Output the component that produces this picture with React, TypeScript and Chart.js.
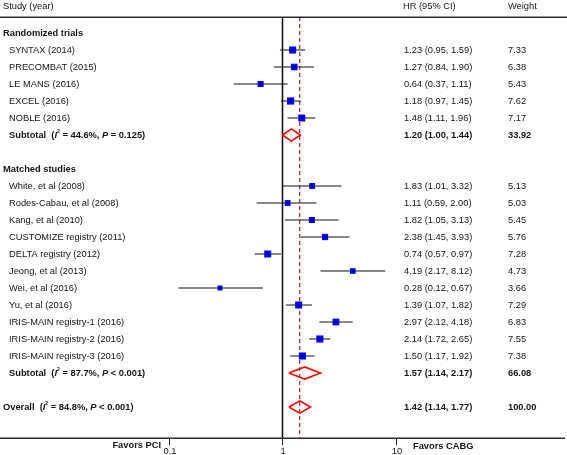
import React, { useEffect, useRef } from 'react';
import Chart from 'chart.js/auto';

// ---------- data ----------
const groupTitles = ['Randomized trials', 'Matched studies'];

const rctNames = ['SYNTAX (2014)', 'PRECOMBAT (2015)', 'LE MANS (2016)', 'EXCEL (2016)', 'NOBLE (2016)'];
const rctHR = [1.23, 1.27, 0.64, 1.18, 1.48];
const rctLo = [0.95, 0.84, 0.37, 0.97, 1.11];
const rctHi = [1.59, 1.9, 1.11, 1.45, 1.96];
const rctWeight = [7.33, 6.38, 5.43, 7.62, 7.17];

const obsNames = [
  'White, et al (2008)',
  'Rodes-Cabau, et al (2008)',
  'Kang, et al (2010)',
  'CUSTOMIZE registry (2011)',
  'DELTA registry (2012)',
  'Jeong, et al (2013)',
  'Wei, et al (2016)',
  'Yu, et al (2016)',
  'IRIS-MAIN registry-1 (2016)',
  'IRIS-MAIN registry-2 (2016)',
  'IRIS-MAIN registry-3 (2016)',
];
const obsHR = [1.83, 1.11, 1.82, 2.38, 0.74, 4.19, 0.28, 1.39, 2.97, 2.14, 1.5];
const obsLo = [1.01, 0.59, 1.05, 1.45, 0.57, 2.17, 0.12, 1.07, 2.12, 1.72, 1.17];
const obsHi = [3.32, 2.0, 3.13, 3.93, 0.97, 8.12, 0.67, 1.82, 4.18, 2.65, 1.92];
const obsWeight = [5.13, 5.03, 5.45, 5.76, 7.28, 4.73, 3.66, 7.29, 6.83, 7.55, 7.38];

const pooledLabels = ['Subtotal', 'Subtotal', 'Overall'];
const pooledHR = [1.2, 1.57, 1.42];
const pooledLo = [1.0, 1.14, 1.14];
const pooledHi = [1.44, 2.17, 1.77];
const pooledWeight = [33.92, 66.08, 100.0];
const pooledI2 = ['44.6%', '87.7%', '84.8%'];
const pooledP = ['= 0.125', '< 0.001', '< 0.001'];

const columnHeaders = ['Study (year)', 'HR (95% CI)', 'Weight'];
const xTicks = [0.1, 1, 10];
const xTickLabels = ['0.1', '1', '10'];
const favorsLabels = ['Favors PCI', 'Favors CABG'];

// ---------- layout ----------
const W = 567;
const H = 455;
const PX_ONE = 282.5;
const PX_DECADE = 113;
const ROW0_PX = 33;
const ROW_PX = 17;
const X_MIN = Math.pow(10, -PX_ONE / PX_DECADE);
const X_MAX = Math.pow(10, (W - PX_ONE) / PX_DECADE);
const Y_MIN = -ROW0_PX / ROW_PX;
const Y_MAX = Y_MIN + H / ROW_PX;
const HEADER_ROW = (6 - ROW0_PX) / ROW_PX;
const TOP_RULE_ROW = (17 - ROW0_PX) / ROW_PX;
const AXIS_ROW = (438 - ROW0_PX) / ROW_PX;
const DIAMOND_HALF = 0.36;

const FONT = '"Liberation Sans", Arial, Helvetica, sans-serif';
const FS = 9.3;
const TEXT = '#151515';

type Study = { name: string; hr: number; lo: number; hi: number; w: number; row: number };
type Pooled = { label: string; hr: number; lo: number; hi: number; w: number; i2: string; p: string; row: number; indent: boolean };
type Title = { text: string; row: number };

function buildRows() {
  const studies: Study[] = [];
  const pooled: Pooled[] = [];
  const titles: Title[] = [];
  const groups = [
    { names: rctNames, hr: rctHR, lo: rctLo, hi: rctHi, w: rctWeight },
    { names: obsNames, hr: obsHR, lo: obsLo, hi: obsHi, w: obsWeight },
  ];
  let r = 0;
  groups.forEach((g, gi) => {
    titles.push({ text: groupTitles[gi], row: r++ });
    g.names.forEach((n, i) => {
      studies.push({ name: n, hr: g.hr[i], lo: g.lo[i], hi: g.hi[i], w: g.w[i], row: r++ });
    });
    pooled.push({ label: pooledLabels[gi], hr: pooledHR[gi], lo: pooledLo[gi], hi: pooledHi[gi], w: pooledWeight[gi], i2: pooledI2[gi], p: pooledP[gi], row: r++, indent: true });
    r++;
  });
  const k = pooledLabels.length - 1;
  pooled.push({ label: pooledLabels[k], hr: pooledHR[k], lo: pooledLo[k], hi: pooledHi[k], w: pooledWeight[k], i2: pooledI2[k], p: pooledP[k], row: r, indent: false });
  return { studies, pooled, titles };
}

const fmtCI = (hr: number, lo: number, hi: number) => `${hr.toFixed(2)} (${lo.toFixed(2)}, ${hi.toFixed(2)})`;

export default function App() {
  const ref = useRef<HTMLCanvasElement>(null);

  useEffect(() => {
    const { studies, pooled, titles } = buildRows();

    const ciData: any[] = [];
    studies.forEach((s) => {
      ciData.push({ x: s.lo, y: s.row }, { x: s.hi, y: s.row }, { x: s.hr, y: null });
    });
    const diamondData: any[] = [];
    pooled.forEach((p) => {
      diamondData.push(
        { x: p.lo, y: p.row },
        { x: p.hr, y: p.row - DIAMOND_HALF },
        { x: p.hi, y: p.row },
        { x: p.hr, y: p.row + DIAMOND_HALF },
        { x: p.lo, y: p.row },
        { x: p.hr, y: null }
      );
    });
    const overall = pooled[pooled.length - 1];

    const textPlugin = {
      id: 'forestText',
      afterDatasetsDraw(chart: any) {
        const ctx = chart.ctx as CanvasRenderingContext2D;
        const xs = chart.scales.x;
        const ys = chart.scales.y;
        ctx.save();
        // rules
        ctx.strokeStyle = '#2a2a2a';
        ctx.lineWidth = 1.5;
        ctx.beginPath();
        const yt = Math.round(ys.getPixelForValue(TOP_RULE_ROW)) + 0.25;
        const yb = Math.round(ys.getPixelForValue(AXIS_ROW)) + 0.25;
        ctx.moveTo(0, yt);
        ctx.lineTo(W, yt);
        ctx.moveTo(0, yb);
        ctx.lineTo(W - 2, yb);
        ctx.stroke();
        // ticks
        ctx.lineWidth = 1;
        ctx.strokeStyle = '#222';
        ctx.fillStyle = TEXT;
        ctx.textBaseline = 'middle';
        ctx.textAlign = 'center';
        ctx.font = `${FS}px ${FONT}`;
        xTicks.forEach((t, i) => {
          const px = Math.round(xs.getPixelForValue(t)) + 0.5;
          ctx.beginPath();
          ctx.moveTo(px, yb);
          ctx.lineTo(px, yb + 7);
          ctx.stroke();
          ctx.fillText(xTickLabels[i], px + 0.5, yb + 13);
        });
        // favors labels
        ctx.font = `bold ${FS}px ${FONT}`;
        ctx.textAlign = 'right';
        ctx.fillText(favorsLabels[0], 161, yb + 7);
        ctx.textAlign = 'left';
        ctx.fillText(favorsLabels[1], 413, yb + 8);

        // headers
        const yh = ys.getPixelForValue(HEADER_ROW);
        ctx.font = `${FS}px ${FONT}`;
        ctx.fillText(columnHeaders[0], 3, yh);
        ctx.fillText(columnHeaders[1], 403, yh);
        ctx.fillText(columnHeaders[2], 508, yh);

        // group titles
        ctx.font = `bold ${FS}px ${FONT}`;
        titles.forEach((t) => ctx.fillText(t.text, 3, ys.getPixelForValue(t.row)));

        // studies
        ctx.font = `${FS}px ${FONT}`;
        studies.forEach((s) => {
          const y = ys.getPixelForValue(s.row);
          ctx.fillText(s.name, 9, y);
          ctx.fillText(fmtCI(s.hr, s.lo, s.hi), 404, y);
          ctx.fillText(s.w.toFixed(2), 508, y);
        });

        // pooled rows
        pooled.forEach((p) => {
          const y = ys.getPixelForValue(p.row);
          let x = p.indent ? 9 : 3;
          const segs: { t: string; f: string; dy?: number }[] = [
            { t: `${p.label}  (`, f: `bold ${FS}px ${FONT}` },
            { t: 'I', f: `italic bold ${FS}px ${FONT}` },
            { t: '2', f: `bold ${FS * 0.55}px ${FONT}`, dy: -3.2 },
            { t: ` = ${p.i2}, `, f: `bold ${FS}px ${FONT}` },
            { t: 'P', f: `italic bold ${FS}px ${FONT}` },
            { t: ` ${p.p})`, f: `bold ${FS}px ${FONT}` },
          ];
          segs.forEach((s) => {
            ctx.font = s.f;
            ctx.fillText(s.t, x, y + (s.dy || 0));
            x += ctx.measureText(s.t).width;
          });
          ctx.font = `bold ${FS}px ${FONT}`;
          ctx.fillText(fmtCI(p.hr, p.lo, p.hi), 404, y);
          ctx.fillText(p.w.toFixed(2), 508, y);
        });
        ctx.restore();
      },
    };

    const chart = new Chart(ref.current as HTMLCanvasElement, {
      type: 'scatter',
      data: {
        datasets: [
          {
            label: 'centre',
            data: studies.map((s) => ({ x: s.hr, y: s.row })),
            pointStyle: 'rect',
            pointRadius: 1.1,
            backgroundColor: '#000',
            borderWidth: 0,
            order: 0,
          } as any,
          {
            label: 'HR',
            data: studies.map((s) => ({ x: s.hr, y: s.row })),
            pointStyle: 'rect',
            pointRadius: studies.map((s) => (2.6 * Math.sqrt(s.w)) / Math.SQRT2),
            backgroundColor: '#0000ff',
            borderWidth: 0,
            order: 1,
          } as any,
          {
            label: 'CI',
            data: ciData,
            showLine: true,
            spanGaps: false,
            pointRadius: 0,
            borderColor: '#111',
            borderWidth: 1,
            order: 2,
          } as any,
          {
            label: 'pooled',
            data: diamondData,
            showLine: true,
            spanGaps: false,
            pointRadius: 0,
            borderColor: '#ff0000',
            borderWidth: 1.6,
            order: 3,
          } as any,
          {
            label: 'overall',
            data: [
              { x: overall.hr, y: TOP_RULE_ROW },
              { x: overall.hr, y: AXIS_ROW },
            ],
            showLine: true,
            pointRadius: 0,
            borderColor: '#9e2a2f',
            borderWidth: 1.2,
            borderDash: [4, 3],
            order: 4,
          } as any,
          {
            label: 'null',
            data: [
              { x: 1, y: TOP_RULE_ROW },
              { x: 1, y: AXIS_ROW },
            ],
            showLine: true,
            pointRadius: 0,
            borderColor: '#111',
            borderWidth: 1.6,
            order: 5,
          } as any,
        ],
      },
      options: {
        responsive: false,
        maintainAspectRatio: false,
        animation: false,
        devicePixelRatio: 1,
        layout: { padding: 0, autoPadding: false },
        events: [],
        plugins: { legend: { display: false }, tooltip: { enabled: false } },
        scales: {
          x: { type: 'logarithmic', display: false, min: X_MIN, max: X_MAX, bounds: 'data' },
          y: { type: 'linear', display: false, min: Y_MIN, max: Y_MAX, reverse: true, bounds: 'data' },
        },
      } as any,
      plugins: [textPlugin],
    });
    return () => chart.destroy();
  }, []);

  return (
    <div style={{ position: 'fixed', left: 0, top: 0, width: W, height: H, background: '#fff' }}>
      <canvas ref={ref} width={W} height={H} style={{ display: 'block', width: W, height: H }} />
    </div>
  );
}
